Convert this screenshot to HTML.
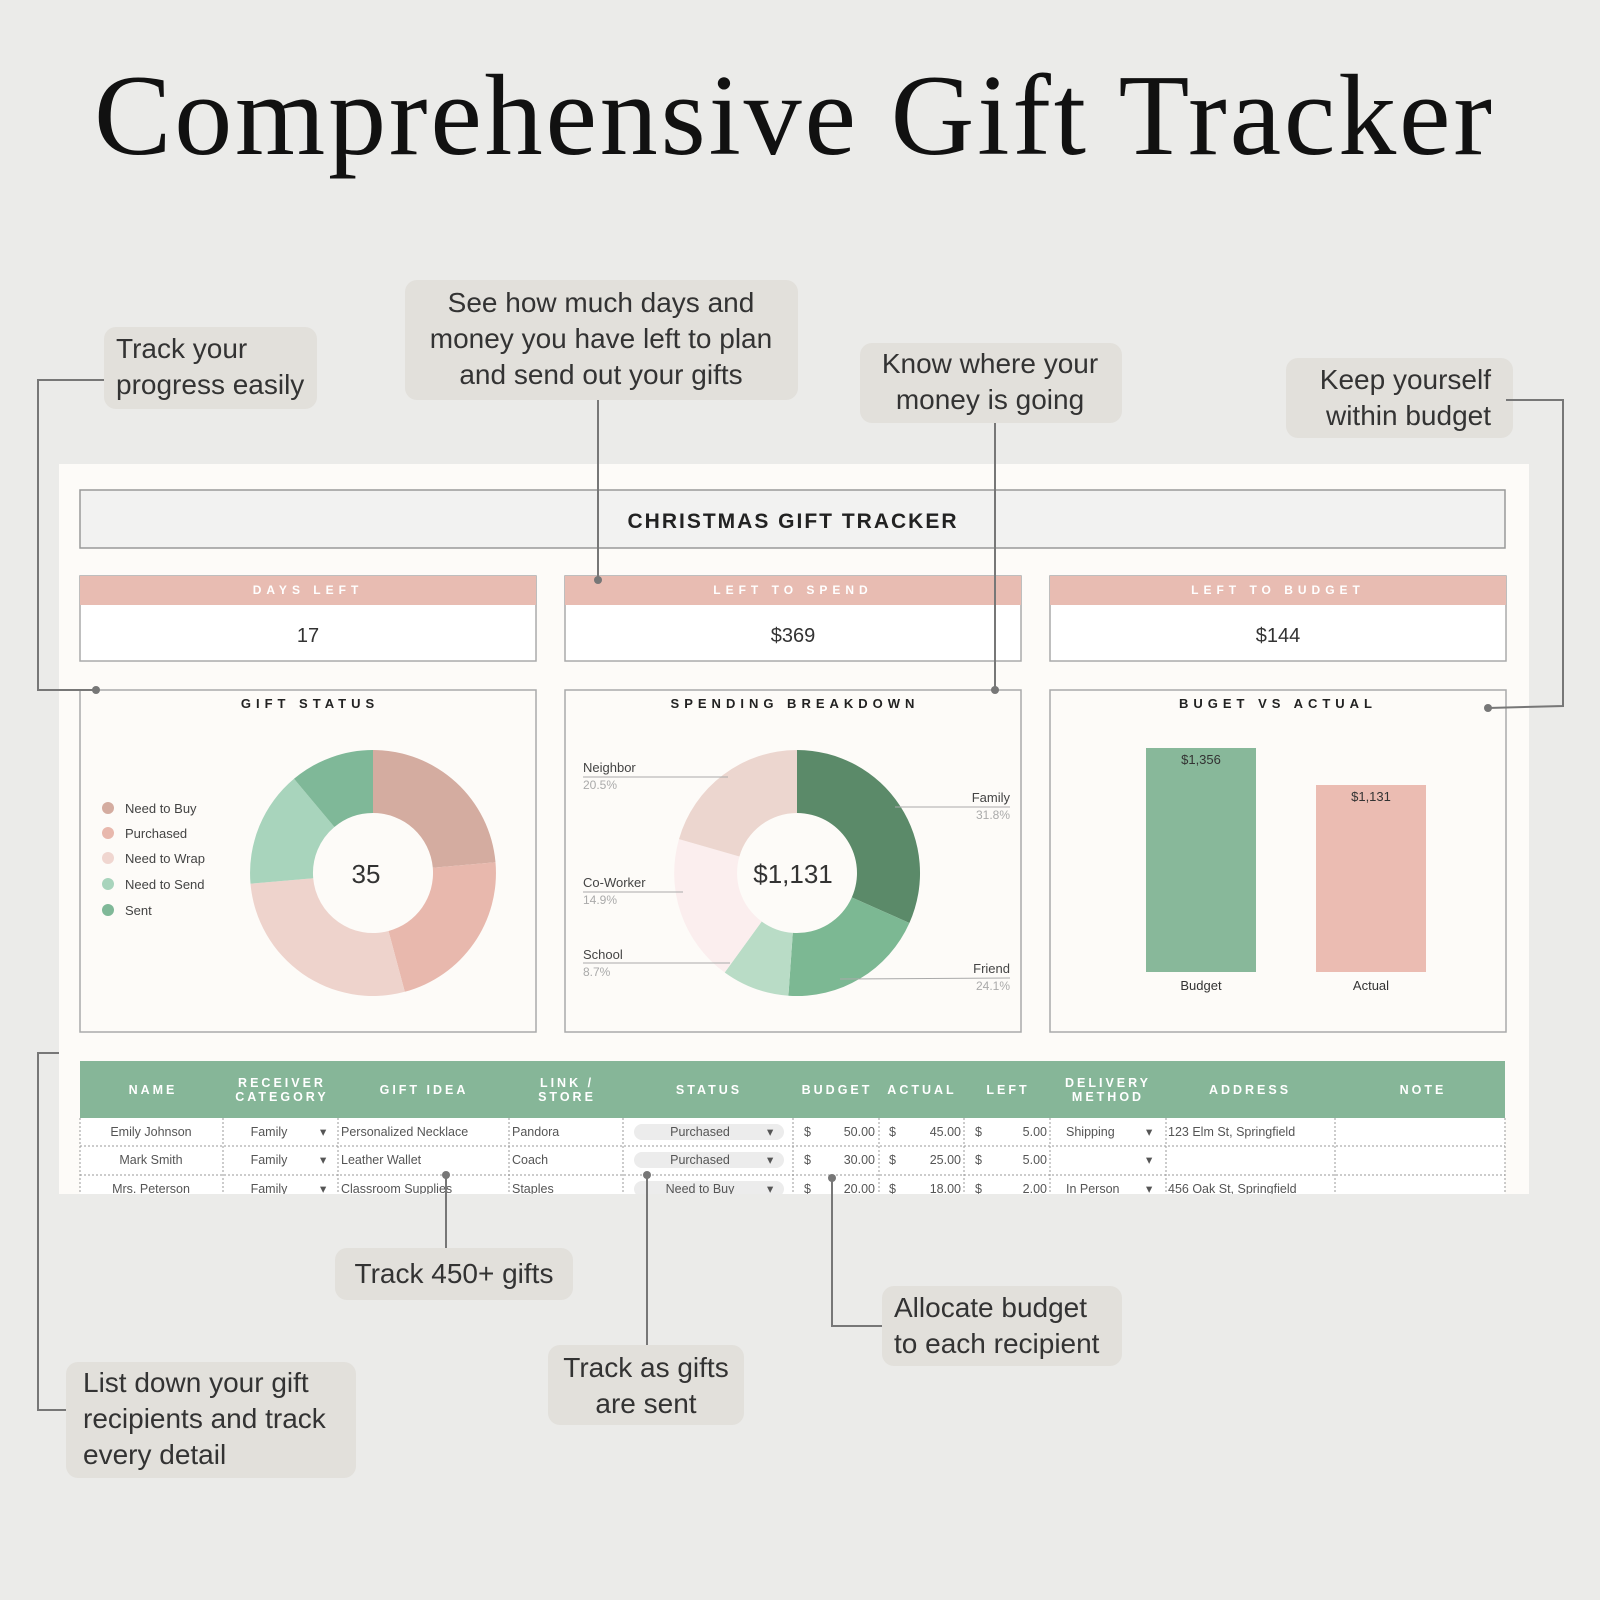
<!DOCTYPE html>
<html><head><meta charset="utf-8"><style>
html,body{margin:0;padding:0;background:#ebebe9;}
svg{display:block;}
text{font-family:"Liberation Sans",sans-serif;}
</style></head><body>
<svg width="1600" height="1600" viewBox="0 0 1600 1600" xmlns="http://www.w3.org/2000/svg">
<rect width="1600" height="1600" fill="#ebebe9"/>
<text x="94" y="154" font-size="116" fill="#111" textLength="1398" lengthAdjust="spacing" style="font-family:'Liberation Serif',serif">Comprehensive Gift Tracker</text>

<rect x="59" y="464" width="1470" height="730" fill="#fdfbf8"/>
<rect x="80" y="490" width="1425" height="58" fill="#f2f2f1" stroke="#999" stroke-width="1.5"/>
<text x="793" y="528" text-anchor="middle" font-size="21" font-weight="bold" letter-spacing="2" fill="#222">CHRISTMAS GIFT TRACKER</text>

<g font-size="12" fill="#fff" letter-spacing="5" font-weight="bold" text-anchor="middle">
<rect x="80" y="576" width="456" height="85" fill="#fff" stroke="#aaa" stroke-width="1.5"/>
<rect x="80" y="576" width="456" height="29" fill="#e8bcb2"/>
<text x="308" y="594">DAYS LEFT</text>
<rect x="565" y="576" width="456" height="85" fill="#fff" stroke="#aaa" stroke-width="1.5"/>
<rect x="565" y="576" width="456" height="29" fill="#e8bcb2"/>
<text x="793" y="594">LEFT TO SPEND</text>
<rect x="1050" y="576" width="456" height="85" fill="#fff" stroke="#aaa" stroke-width="1.5"/>
<rect x="1050" y="576" width="456" height="29" fill="#e8bcb2"/>
<text x="1278" y="594">LEFT TO BUDGET</text>
</g>
<g font-size="20" fill="#333" text-anchor="middle">
<text x="308" y="642">17</text><text x="793" y="642">$369</text><text x="1278" y="642">$144</text>
</g>

<g fill="none" stroke="#aaa" stroke-width="1.5">
<rect x="80" y="690" width="456" height="342"/>
<rect x="565" y="690" width="456" height="342"/>
<rect x="1050" y="690" width="456" height="342"/>
</g>
<g font-size="13" font-weight="bold" letter-spacing="5" fill="#222" text-anchor="middle">
<text x="310" y="708">GIFT STATUS</text>
<text x="795" y="708">SPENDING BREAKDOWN</text>
<text x="1278" y="708">BUGET VS ACTUAL</text>
</g>

<g font-size="13" fill="#444">
<circle cx="108" cy="808" r="6" fill="#d4aca0"/><text x="125" y="813">Need to Buy</text>
<circle cx="108" cy="833" r="6" fill="#e8b8ad"/><text x="125" y="838">Purchased</text>
<circle cx="108" cy="858" r="6" fill="#f0d6d0"/><text x="125" y="863">Need to Wrap</text>
<circle cx="108" cy="884" r="6" fill="#a8d4bc"/><text x="125" y="889">Need to Send</text>
<circle cx="108" cy="910" r="6" fill="#7fb898"/><text x="125" y="915">Sent</text>
</g>

<g transform="translate(373,873)">
<path d="M0,-123 A123,123 0 0 1 122.5,-10.7 L59.8,-5.2 A60,60 0 0 0 0,-60 Z" fill="#d4aca0"/>
<path d="M122.5,-10.7 A123,123 0 0 1 31.8,118.8 L15.5,58 A60,60 0 0 0 59.8,-5.2 Z" fill="#e8b8ad"/>
<path d="M31.8,118.8 A123,123 0 0 1 -122.5,10.7 L-59.8,5.2 A60,60 0 0 0 15.5,58 Z" fill="#eed3cc"/>
<path d="M-122.5,10.7 A123,123 0 0 1 -79,-94.2 L-38.6,-46 A60,60 0 0 0 -59.8,5.2 Z" fill="#a8d4bc"/>
<path d="M-79,-94.2 A123,123 0 0 1 0,-123 L0,-60 A60,60 0 0 0 -38.6,-46 Z" fill="#7fb898"/>
<text x="-7" y="10" font-size="26" fill="#333" text-anchor="middle">35</text>
</g>

<g transform="translate(797,873)">
<path d="M0,-123 A123,123 0 0 1 112.4,50 L54.8,24.4 A60,60 0 0 0 0,-60 Z" fill="#5b8a69"/>
<path d="M112.4,50 A123,123 0 0 1 -8.6,122.7 L-4.2,59.9 A60,60 0 0 0 54.8,24.4 Z" fill="#7cb893"/>
<path d="M-8.6,122.7 A123,123 0 0 1 -72.3,99.5 L-35.3,48.5 A60,60 0 0 0 -4.2,59.9 Z" fill="#b9dcc6"/>
<path d="M-72.3,99.5 A123,123 0 0 1 -118,-33.9 L-57.6,-16.5 A60,60 0 0 0 -35.3,48.5 Z" fill="#fbeeee"/>
<path d="M-118,-33.9 A123,123 0 0 1 0,-123 L0,-60 A60,60 0 0 0 -57.6,-16.5 Z" fill="#ecd6cf"/>
<text x="-4" y="10" font-size="26" fill="#333" text-anchor="middle">$1,131</text>
</g>
<g font-size="13" fill="#444" stroke-width="1">
<text x="583" y="772">Neighbor</text><text x="583" y="789" fill="#aaa" font-size="12">20.5%</text>
<line x1="583" y1="777" x2="728" y2="777" stroke="#aaa"/>
<text x="583" y="887">Co-Worker</text><text x="583" y="904" fill="#aaa" font-size="12">14.9%</text>
<line x1="583" y1="892" x2="683" y2="892" stroke="#aaa"/>
<text x="583" y="959">School</text><text x="583" y="976" fill="#aaa" font-size="12">8.7%</text>
<line x1="583" y1="963" x2="730" y2="963" stroke="#aaa"/>
<text x="1010" y="802" text-anchor="end">Family</text><text x="1010" y="819" fill="#aaa" font-size="12" text-anchor="end">31.8%</text>
<line x1="895" y1="807" x2="1010" y2="807" stroke="#aaa"/>
<text x="1010" y="973" text-anchor="end">Friend</text><text x="1010" y="990" fill="#aaa" font-size="12" text-anchor="end">24.1%</text>
<line x1="840" y1="979" x2="1010" y2="978" stroke="#aaa"/>
</g>

<rect x="1146" y="748" width="110" height="224" fill="#88b89a"/>
<rect x="1316" y="785" width="110" height="187" fill="#ebbcb2"/>
<g font-size="13" fill="#333" text-anchor="middle">
<text x="1201" y="764">$1,356</text><text x="1371" y="801">$1,131</text>
<text x="1201" y="990">Budget</text><text x="1371" y="990">Actual</text>
</g>

<rect x="80" y="1061" width="1425" height="57" fill="#86b698"/>
<g font-size="12.5" font-weight="bold" letter-spacing="3" fill="#fff" text-anchor="middle">
<text x="153" y="1094">NAME</text>
<text x="282" y="1087">RECEIVER</text><text x="282" y="1101">CATEGORY</text>
<text x="424" y="1094">GIFT IDEA</text>
<text x="567" y="1087">LINK /</text><text x="567" y="1101">STORE</text>
<text x="709" y="1094">STATUS</text>
<text x="837" y="1094">BUDGET</text>
<text x="922" y="1094">ACTUAL</text>
<text x="1008" y="1094">LEFT</text>
<text x="1108" y="1087">DELIVERY</text><text x="1108" y="1101">METHOD</text>
<text x="1250" y="1094">ADDRESS</text>
<text x="1423" y="1094">NOTE</text>
</g>
<rect x="80" y="1118" width="1425" height="76" fill="#fff"/>
<g stroke="#999" stroke-width="1" stroke-dasharray="2,2">
<line x1="80" y1="1146" x2="1505" y2="1146"/><line x1="80" y1="1175" x2="1505" y2="1175"/>
<line x1="223" y1="1118" x2="223" y2="1194"/><line x1="338" y1="1118" x2="338" y2="1194"/>
<line x1="509" y1="1118" x2="509" y2="1194"/><line x1="623" y1="1118" x2="623" y2="1194"/>
<line x1="793" y1="1118" x2="793" y2="1194"/><line x1="879" y1="1118" x2="879" y2="1194"/>
<line x1="964" y1="1118" x2="964" y2="1194"/><line x1="1050" y1="1118" x2="1050" y2="1194"/>
<line x1="1166" y1="1118" x2="1166" y2="1194"/><line x1="1335" y1="1118" x2="1335" y2="1194"/>
<line x1="1505" y1="1118" x2="1505" y2="1194"/><line x1="80" y1="1118" x2="80" y2="1194"/>
</g>
<rect x="634" y="1124" width="150" height="16" rx="8" fill="#ececec"/>
<rect x="634" y="1152" width="150" height="16" rx="8" fill="#ececec"/>
<rect x="634" y="1181" width="150" height="16" rx="8" fill="#ececec"/>
<g font-size="12.5" fill="#555">
<text x="151" y="1136" text-anchor="middle">Emily Johnson</text><text x="151" y="1164" text-anchor="middle">Mark Smith</text><text x="151" y="1193" text-anchor="middle">Mrs. Peterson</text>
<text x="269" y="1136" text-anchor="middle">Family</text><text x="269" y="1164" text-anchor="middle">Family</text><text x="269" y="1193" text-anchor="middle">Family</text>
<text x="320" y="1136">▾</text><text x="320" y="1164">▾</text><text x="320" y="1193">▾</text>
<text x="341" y="1136">Personalized Necklace</text><text x="341" y="1164">Leather Wallet</text><text x="341" y="1193">Classroom Supplies</text>
<text x="512" y="1136">Pandora</text><text x="512" y="1164">Coach</text><text x="512" y="1193">Staples</text>
<text x="700" y="1136" text-anchor="middle">Purchased</text><text x="700" y="1164" text-anchor="middle">Purchased</text><text x="700" y="1193" text-anchor="middle">Need to Buy</text>
<text x="767" y="1136">▾</text><text x="767" y="1164">▾</text><text x="767" y="1193">▾</text>
<text x="804" y="1136">$</text><text x="875" y="1136" text-anchor="end">50.00</text>
<text x="889" y="1136">$</text><text x="961" y="1136" text-anchor="end">45.00</text>
<text x="975" y="1136">$</text><text x="1047" y="1136" text-anchor="end">5.00</text>
<text x="804" y="1164">$</text><text x="875" y="1164" text-anchor="end">30.00</text>
<text x="889" y="1164">$</text><text x="961" y="1164" text-anchor="end">25.00</text>
<text x="975" y="1164">$</text><text x="1047" y="1164" text-anchor="end">5.00</text>
<text x="804" y="1193">$</text><text x="875" y="1193" text-anchor="end">20.00</text>
<text x="889" y="1193">$</text><text x="961" y="1193" text-anchor="end">18.00</text>
<text x="975" y="1193">$</text><text x="1047" y="1193" text-anchor="end">2.00</text>
<text x="1066" y="1136">Shipping</text><text x="1146" y="1136">▾</text><text x="1146" y="1164">▾</text>
<text x="1066" y="1193">In Person</text><text x="1146" y="1193">▾</text>
<text x="1168" y="1136">123 Elm St, Springfield</text>
<text x="1168" y="1193">456 Oak St, Springfield</text>
</g>
<rect x="0" y="1194" width="1600" height="30" fill="#ebebe9"/>

<g fill="#e2e0db">
<rect x="104" y="327" width="213" height="82" rx="12"/>
<rect x="405" y="280" width="393" height="120" rx="12"/>
<rect x="860" y="343" width="262" height="80" rx="12"/>
<rect x="1286" y="358" width="227" height="80" rx="12"/>
<rect x="335" y="1248" width="238" height="52" rx="12"/>
<rect x="548" y="1345" width="196" height="80" rx="12"/>
<rect x="882" y="1286" width="240" height="80" rx="12"/>
<rect x="66" y="1362" width="290" height="116" rx="12"/>
</g>
<g font-size="28" fill="#333">
<text x="116" y="358">Track your</text><text x="116" y="394">progress easily</text>
<text x="601" y="312" text-anchor="middle">See how much days and</text>
<text x="601" y="348" text-anchor="middle">money you have left to plan</text>
<text x="601" y="384" text-anchor="middle">and send out your gifts</text>
<text x="990" y="373" text-anchor="middle">Know where your</text><text x="990" y="409" text-anchor="middle">money is going</text>
<text x="1491" y="389" text-anchor="end">Keep yourself</text><text x="1491" y="425" text-anchor="end">within budget</text>
<text x="454" y="1283" text-anchor="middle">Track 450+ gifts</text>
<text x="646" y="1377" text-anchor="middle">Track as gifts</text><text x="646" y="1413" text-anchor="middle">are sent</text>
<text x="894" y="1317">Allocate budget</text><text x="894" y="1353">to each recipient</text>
<text x="83" y="1392">List down your gift</text><text x="83" y="1428">recipients and track</text><text x="83" y="1464">every detail</text>
</g>
<g fill="none" stroke="#777" stroke-width="2">
<polyline points="104,380 38,380 38,690 96,690"/>
<line x1="598" y1="400" x2="598" y2="580"/>
<line x1="995" y1="423" x2="995" y2="690"/>
<polyline points="1506,400 1563,400 1563,706 1488,708"/>
<line x1="446" y1="1175" x2="446" y2="1248"/>
<line x1="647" y1="1175" x2="647" y2="1345"/>
<polyline points="832,1178 832,1326 882,1326"/>
<polyline points="59,1053 38,1053 38,1410 66,1410"/>
</g>
<g fill="#777">
<circle cx="96" cy="690" r="4"/><circle cx="598" cy="580" r="4"/><circle cx="995" cy="690" r="4"/>
<circle cx="1488" cy="708" r="4"/><circle cx="446" cy="1175" r="4"/><circle cx="647" cy="1175" r="4"/><circle cx="832" cy="1178" r="4"/>
</g>
</svg>
</body></html>
